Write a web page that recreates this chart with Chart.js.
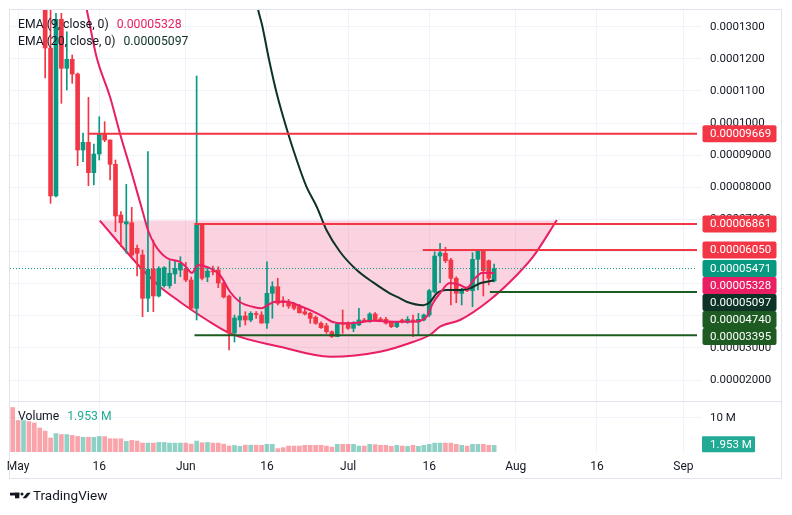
<!DOCTYPE html>
<html>
<head>
<meta charset="utf-8">
<script src="https://cdn.jsdelivr.net/npm/chart.js@4"></script>
<style>
  html, body { margin: 0; padding: 0; background: #fff; }
</style>
</head>
<body>
<canvas id="chart" width="792" height="515"></canvas>
<script>
// prices are kept in units of 1e-8 (5471 -> 0.00005471), volume in millions
const PRICE_UNIT = 1e-8;

// x is a day index: 0 = Apr 30, 1 = May 1 ... 126 = Sep 3
const tick_pos = [1, 16, 32, 47, 62, 77, 93, 108, 124];
const tick_labels = ['May', '16', 'Jun', '16', 'Jul', '16', 'Aug', '16', 'Sep'];

const open = [19000, 17200, 15600, 16800, 15400, 14900, 14300, 12337, 7730, 13230,
  11705, 11985, 11527, 9162, 9401, 8455, 9037, 9681, 9473, 8716,
  7138, 6858, 6898, 6101, 5893, 4545, 5448, 4617, 4937, 4937,
  5301, 5426, 5448, 5115, 4234, 6827, 5208, 5395, 5426, 5021,
  4617, 3465, 3870, 3994, 3870, 4057, 4026, 3776, 4700, 4906,
  4470, 4408, 4358, 4283, 4128, 4078, 3953, 3767, 3692, 3505,
  3349, 3767, 3736, 3611, 3716, 3870, 3816, 4057, 3891, 3891,
  3798, 3661, 3847, 3808, 3870, 3808, 3870, 4026, 4742, 5862,
  5946, 5737, 5167, 4700, 4856, 4781, 5759, 6049, 5715, 5084];
const high = [21000, 18000, 17500, 17000, 15900, 15200, 14600, 13700, 13417, 13417,
  12844, 12119, 11560, 9691, 10802, 9348, 10198, 10043, 9480, 8850,
  7241, 8094, 7378, 6204, 6049, 9109, 6360, 5529, 5529, 5715,
  5737, 5840, 5664, 5208, 11465, 6850, 5529, 5551, 5529, 5053,
  4648, 4026, 4586, 4128, 4128, 4128, 4128, 5684, 5062, 5167,
  4595, 4513, 4408, 4358, 4234, 4109, 3995, 3816, 3767, 3536,
  3767, 4181, 3816, 3816, 4234, 3922, 4097, 4097, 3953, 3953,
  3816, 3816, 3900, 3972, 4026, 4078, 4057, 4825, 5995, 6257,
  6132, 5790, 5218, 4856, 4906, 5964, 6070, 6070, 5737, 5613];
const low = [16500, 15000, 15200, 15100, 14300, 13900, 11403, 7502, 7698, 10615,
  11029, 11238, 8673, 8797, 8050, 8072, 8851, 9420, 8228, 6618,
  6151, 5946, 5840, 5239, 3972, 4127, 4127, 4586, 4890, 4859,
  5012, 5217, 5062, 4181, 3870, 5115, 5062, 5270, 4875, 4555,
  2936, 3184, 3651, 3714, 3816, 3922, 3767, 3611, 3922, 4336,
  4283, 4234, 4181, 4078, 4026, 3767, 3736, 3611, 3455, 3331,
  3349, 3455, 3580, 3505, 3692, 3816, 3798, 3847, 3847, 3736,
  3630, 3630, 3777, 3767, 3349, 3402, 3839, 3972, 4710, 5031,
  5653, 4336, 4408, 4336, 4750, 4283, 4803, 4617, 4959, 5053];
const close = [17200, 15600, 16800, 15400, 14900, 14300, 12337, 7730, 13230, 11705,
  11985, 11527, 9162, 9401, 8455, 9037, 9681, 9473, 8716, 7107,
  6898, 6930, 5893, 5946, 4545, 5448, 4617, 5479, 5498, 5323,
  5479, 5634, 5115, 4234, 6827, 5167, 5395, 5364, 5021, 4586,
  3465, 3932, 3994, 3870, 4078, 4040, 3776, 4700, 4906, 4389,
  4408, 4305, 4234, 4097, 4057, 3922, 3767, 3630, 3505, 3349,
  3736, 3736, 3611, 3767, 3870, 3839, 4057, 3870, 3870, 3767,
  3661, 3798, 3839, 3891, 3839, 3891, 4026, 4781, 5862, 5964,
  5715, 5167, 4700, 4825, 4781, 5759, 6027, 5404, 5167, 5471];
const volume = [13.0, 9.2, 9.2, 8.9, 8.5, 7.0, 6.1, 4.1, 5.4, 5.1,
  5.1, 4.85, 4.55, 4.3, 4.3, 4.3, 4.55, 4.5, 3.9, 3.85,
  3.85, 3.1, 3.4, 3.2, 2.6, 2.6, 2.6, 2.8, 2.8, 2.6,
  2.6, 2.6, 2.6, 2.3, 3.2, 2.7, 2.8, 2.6, 2.6, 2.3,
  1.75, 1.9, 1.65, 2.0, 2.0, 2.0, 1.95, 2.24, 2.24, 0.99,
  1.28, 1.74, 1.74, 1.74, 1.95, 1.95, 1.95, 1.95, 1.74, 1.45,
  2.24, 2.24, 2.24, 2.24, 1.74, 1.74, 2.24, 2.15, 1.95, 1.95,
  1.66, 1.95, 1.74, 1.66, 1.95, 1.66, 1.95, 2.24, 2.6, 2.6,
  2.6, 2.6, 2.24, 1.95, 1.74, 2.24, 2.24, 2.24, 1.95, 1.953];

// EMA lines
const ema9_x = [12, 13.7, 15.5, 18, 19.8, 22, 24.1, 25, 26.3, 28.5, 31, 32.2, 33.1, 34.3, 35.9, 38.3,
  40.2, 42, 44.5, 46, 47.2, 48.5, 50.7, 53.1, 55.6, 57.4, 59, 61.1, 63.6, 66.7, 70.4, 74,
  76.5, 77.7, 79, 80.8, 82.7, 83.9, 85.5, 86.7, 87.9, 89];
const ema9_y = [14800, 13520, 12057, 10811, 9691, 8446, 7200, 6671, 6204, 5799, 5675, 5488, 5333, 5582, 5520, 5270,
  4741, 4430, 4274, 4233, 4336, 4439, 4439, 4305, 4128, 3972, 3817, 3767, 3785, 3848, 3817, 3817,
  3972, 4399, 4710, 5021, 4959, 4866, 5177, 5333, 5342, 5328];
const ema20_x = [44.5, 45.3, 46.1, 47.4, 48.8, 50.9, 52.5, 54.3, 56.2, 58, 60.5, 63.6, 66.7, 69.7,
  71.6, 72.8, 75.9, 77.1, 78.4, 80.2, 82.7, 84.5, 86.4, 89];
const ema20_y = [14400, 13582, 13053, 11963, 10927, 9681, 8850, 8019, 7396, 6671, 5995, 5426, 5031, 4700,
  4545, 4439, 4330, 4420, 4700, 4803, 4803, 4856, 5012, 5097];

// cup drawing
const cup_x = [16.1, 23.5, 27.2, 30.9, 32.2, 35.9, 40.2, 49.4, 58.7, 67.9, 74.1, 77.1, 79, 82.7, 88.2, 93.2, 96.2, 100.6];
const cup_y = [6961, 5529, 4906, 4439, 4283, 3870, 3455, 3038, 2727, 2882, 3194, 3402, 3661, 3870, 4493, 5270, 5840, 6982];
const cup_rim = 6970;

// horizontal levels: value and the day index where each ray starts
const level_value = [9669, 6861, 6050, 4740, 3395];
const level_start = [13.9, 33.6, 75.8, 88.2, 33.6];

const X_MAX = 126.5;
const UP = '#089981', DOWN = '#f23645';
const EMA9_COLOR = '#e91e63', EMA20_COLOR = '#0d3326', LEVEL_GREEN = '#1e5b22';
const FONT = 'Roboto, "Noto Sans", sans-serif';

const idx = open.map((_, i) => i);
const candle_color = idx.map(i => close[i] >= open[i] ? UP : DOWN);
const vol_color = idx.map(i => close[i] >= open[i] ? 'rgba(8,153,129,0.45)' : 'rgba(242,54,69,0.45)');
const fmt_price = v => (v * PRICE_UNIT).toFixed(8);
const last_close = close[close.length - 1];

const line_ds = (xs, ys, color, width, order) => ({
  type: 'line',
  data: xs.map((x, i) => ({ x: x, y: ys[i] })),
  yAxisID: 'y',
  borderColor: color,
  borderWidth: width,
  pointRadius: 0,
  cubicInterpolationMode: 'monotone',
  fill: false,
  order: order
});

const level_colors = [DOWN, DOWN, DOWN, LEVEL_GREEN, LEVEL_GREEN];
const level_sets = level_value.map((v, k) =>
  line_ds([level_start[k], X_MAX], [v, v], level_colors[k], 2, 2));

const last_line = line_ds([-0.5, X_MAX], [last_close, last_close], UP, 1, 3);
last_line.borderDash = [1, 2];

const cup = line_ds(cup_x, cup_y, EMA9_COLOR, 2, 11);
cup.fill = { value: cup_rim };
cup.backgroundColor = 'rgba(233,30,99,0.2)';

// keep tick labels from pushing the plot area around
const no_label_padding = s => {
  s.paddingTop = 0; s.paddingBottom = 0; s.paddingLeft = 0; s.paddingRight = 0;
};

const overlay = {
  id: 'overlay',
  afterDraw(chart) {
    const ctx = chart.ctx;
    const ys = chart.scales.y, yv = chart.scales.yv;
    ctx.save();
    // frame and pane separator
    ctx.strokeStyle = '#e0e3eb';
    ctx.lineWidth = 1;
    ctx.strokeRect(9.5, 9.5, 772, 469);
    ctx.beginPath();
    ctx.moveTo(9, Math.round(yv.top) + 0.5);
    ctx.lineTo(782, Math.round(yv.top) + 0.5);
    ctx.stroke();

    // legends
    ctx.textBaseline = 'middle';
    ctx.font = '12.2px ' + FONT;
    const legend = (label, value, color, y) => {
      ctx.fillStyle = '#131722';
      ctx.fillText(label, 18, y);
      const w = ctx.measureText(label).width;
      ctx.fillStyle = color;
      ctx.fillText(value, 18 + w + 8, y);
    };
    legend('EMA (9, close, 0)', fmt_price(ema9_y[ema9_y.length - 1]), EMA9_COLOR, 25);
    legend('EMA (20, close, 0)', fmt_price(ema20_y[ema20_y.length - 1]), EMA20_COLOR, 42);
    legend('Volume', volume[volume.length - 1].toFixed(3) + ' M', '#22ab94', 417);

    // price tags on the right axis, pushed down when they overlap
    const tags = [
      [level_value[0], DOWN], [level_value[1], DOWN], [level_value[2], DOWN],
      [last_close, UP], [ema9_y[ema9_y.length - 1], EMA9_COLOR],
      [ema20_y[ema20_y.length - 1], EMA20_COLOR],
      [level_value[3], LEVEL_GREEN], [level_value[4], LEVEL_GREEN]
    ];
    ctx.font = '11.5px ' + FONT;
    let prev = -Infinity;
    tags.forEach(([v, c]) => {
      const py = Math.max(ys.getPixelForValue(v), prev + 17);
      prev = py;
      ctx.fillStyle = c;
      ctx.beginPath();
      ctx.roundRect(ys.left + 5.5, py - 8.5, 74, 17, 2);
      ctx.fill();
      ctx.fillStyle = '#fff';
      ctx.fillText(fmt_price(v), ys.left + 13, py + 0.5);
    });
    const vy = yv.getPixelForValue(volume[volume.length - 1]) - 1;
    ctx.fillStyle = '#22ab94';
    ctx.beginPath();
    ctx.roundRect(yv.left + 5, vy - 8, 53, 16, 1);
    ctx.fill();
    ctx.fillStyle = '#fff';
    ctx.fillText(volume[volume.length - 1].toFixed(3) + ' M', yv.left + 13, vy + 0.5);

    // TradingView mark
    ctx.fillStyle = '#131722';
    ctx.fillRect(10, 492.7, 9.3, 2.8);
    ctx.fillRect(15, 492.7, 4.3, 5.6);
    ctx.beginPath();
    ctx.arc(22, 494.1, 1.5, 0, Math.PI * 2);
    ctx.fill();
    ctx.beginPath();
    ctx.moveTo(22.6, 498.3);
    ctx.lineTo(26.2, 498.3);
    ctx.lineTo(30.8, 492.7);
    ctx.lineTo(27.2, 492.7);
    ctx.closePath();
    ctx.fill();
    ctx.font = '13.5px ' + FONT;
    ctx.fillText('TradingView', 33, 496.5);
    ctx.restore();
  }
};

new Chart(document.getElementById('chart'), {
  type: 'bar',
  data: {
    datasets: [
      {
        data: idx.map(i => ({ x: i, y: volume[i] })),
        yAxisID: 'yv',
        backgroundColor: vol_color,
        barThickness: 4,
        grouped: false,
        order: 12
      },
      cup,
      {
        data: idx.map(i => ({ x: i, y: [low[i], high[i]] })),
        yAxisID: 'y',
        backgroundColor: candle_color,
        barThickness: 1,
        grouped: false,
        order: 8
      },
      {
        data: idx.map(i => ({ x: i, y: [open[i], close[i]] })),
        yAxisID: 'y',
        backgroundColor: candle_color,
        barThickness: 4,
        minBarLength: 1,
        grouped: false,
        order: 7
      },
      line_ds(ema20_x, ema20_y, EMA20_COLOR, 2, 5),
      line_ds(ema9_x, ema9_y, EMA9_COLOR, 2, 4),
      last_line,
      ...level_sets
    ]
  },
  options: {
    responsive: false,
    animation: false,
    events: [],
    layout: { autoPadding: false, padding: { left: 10, top: 10, right: 10, bottom: 37 } },
    plugins: { legend: { display: false }, tooltip: { enabled: false } },
    scales: {
      x: {
        type: 'linear',
        offset: false,
        min: -0.5,
        max: X_MAX,
        afterBuildTicks: s => { s.ticks = tick_pos.map(v => ({ value: v })); },
        afterFit: s => { s.height = 26; no_label_padding(s); },
        grid: { color: '#f0f3fa', drawTicks: false, offset: false },
        border: { display: false },
        ticks: {
          autoSkip: false, maxRotation: 0, padding: 8, color: '#131722',
          font: { family: FONT, size: 12 },
          callback: (v, i) => tick_labels[i]
        }
      },
      y: {
        type: 'linear',
        position: 'right',
        stack: 'panes',
        stackWeight: 391,
        weight: 1,
        min: 1348,
        max: 13520,
        afterBuildTicks: s => {
          const t = [];
          for (let v = 2000; v <= 13000; v += 1000) t.push({ value: v });
          s.ticks = t;
        },
        afterFit: s => { s.width = 85; no_label_padding(s); },
        grid: { color: '#f0f3fa', tickLength: 5 },
        border: { display: false },
        ticks: {
          padding: 8, color: '#131722', font: { family: FONT, size: 11.5 },
          callback: v => (v * PRICE_UNIT).toPrecision(4)
        }
      },
      yv: {
        type: 'linear',
        position: 'right',
        stack: 'panes',
        stackWeight: 51,
        weight: 2,
        min: 0,
        max: 14.9,
        afterBuildTicks: s => { s.ticks = [{ value: 10 }]; },
        afterFit: s => { s.width = 85; no_label_padding(s); },
        grid: { color: '#f0f3fa', tickLength: 5 },
        border: { display: false },
        ticks: {
          padding: 8, color: '#131722', font: { family: FONT, size: 11.5 },
          callback: v => v + ' M'
        }
      }
    }
  },
  plugins: [overlay]
});
</script>
</body>
</html>
